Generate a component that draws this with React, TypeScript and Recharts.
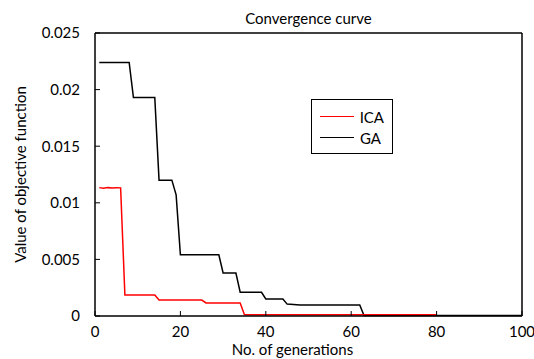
import { Legend, Line, LineChart, XAxis, YAxis } from 'recharts';

const GENERATION_TICKS = [0, 20, 40, 60, 80, 100];
const OBJECTIVE_TICKS = [0, 0.005, 0.01, 0.015, 0.02, 0.025];

// breakpoints of the step curves
const ICA_GENERATIONS = [1, 2, 3, 4, 5, 6, 7, 14, 15, 25, 26, 34, 35, 80];
const ICA_VALUES = [
  0.01134, 0.01128, 0.01134, 0.0113, 0.01134, 0.01132, 0.00186, 0.00186,
  0.00141, 0.00141, 0.00115, 0.00115, 0.0001, 0.0001,
];

const GA_GENERATIONS = [
  1, 8, 9, 14, 15, 18, 19, 20, 29, 30, 33, 34, 39, 40, 44, 45, 48, 62, 63, 100,
];
const GA_VALUES = [
  0.0224, 0.0224, 0.0193, 0.0193, 0.012, 0.012, 0.0107, 0.0054, 0.0054,
  0.0038, 0.0038, 0.0021, 0.0021, 0.0015, 0.0015, 0.00105, 0.00097, 0.00097,
  0.00005, 0.00005,
];

const SERIES = [
  { name: 'ICA', color: '#ff0000' },
  { name: 'GA', color: '#000000' },
];

const FONT = 'Lato, "Open Sans", sans-serif';

const icaData = ICA_GENERATIONS.map((g, i) => ({ gen: g, value: ICA_VALUES[i] }));
const gaData = GA_GENERATIONS.map((g, i) => ({ gen: g, value: GA_VALUES[i] }));

function LegendBox() {
  return (
    <div
      style={{
        border: '1.5px solid #000',
        background: '#fff',
        padding: '6px 8px',
        fontFamily: FONT,
        fontSize: 15,
        lineHeight: '26px',
        boxSizing: 'border-box',
        width: 82,
        height: 55,
      }}
    >
      {SERIES.map((s) => (
        <div key={s.name} style={{ display: 'flex', alignItems: 'center', gap: 6, height: 21 }}>
          <span style={{ width: 34, height: 0, borderTop: `1.5px solid ${s.color}` }} />
          <span>{s.name}</span>
        </div>
      ))}
    </div>
  );
}

export default function App() {
  return (
    <div style={{ position: 'absolute', left: 0, top: 0, background: '#fff', fontFamily: FONT }}>
      <LineChart
        width={534}
        height={359}
        margin={{ top: 32, right: 11, bottom: 3, left: 10 }}
      >
        <XAxis
          dataKey="gen"
          type="number"
          domain={[0, 100]}
          ticks={GENERATION_TICKS}
          allowDuplicatedCategory={false}
          height={40}
          axisLine={{ stroke: '#000', strokeWidth: 1.5 }}
          tickLine={{ stroke: '#000' }}
          tickSize={-5}
          tickMargin={15}
          tick={{ fill: '#000', fontSize: 15, fontFamily: FONT }}
          label={{
            content: (props: any) => {
              const vb = props.viewBox;
              return (
                <text x={vb.x + vb.width / 2 - 16} y={355} textAnchor="middle" fontSize={15} fontFamily={FONT} fill="#000">
                  No. of generations
                </text>
              );
            },
          }}
        />
        <XAxis
          xAxisId="top"
          orientation="top"
          type="number"
          domain={[0, 100]}
          ticks={GENERATION_TICKS}
          height={1}
          tick={false}
          axisLine={{ stroke: '#000', strokeWidth: 1.5 }}
          tickLine={{ stroke: '#000' }}
          tickSize={-5}
          label={{
            content: (props: any) => {
              const vb = props.viewBox;
              return (
                <text x={vb.x + vb.width / 2} y={24} textAnchor="middle" fontSize={15} fontFamily={FONT} fill="#000">
                  Convergence curve
                </text>
              );
            },
          }}
        />
        <YAxis
          type="number"
          domain={[0, 0.025]}
          ticks={OBJECTIVE_TICKS}
          width={85}
          axisLine={{ stroke: '#000', strokeWidth: 1.5 }}
          tickLine={{ stroke: '#000' }}
          tickSize={-5}
          tickMargin={20}
          tick={{ fill: '#000', fontSize: 15, fontFamily: FONT }}
          label={{
            content: (props: any) => {
              const vb = props.viewBox;
              const cy = vb.y + vb.height / 2;
              return (
                <text
                  x={20}
                  y={cy}
                  transform={`rotate(-90, 20, ${cy})`}
                  textAnchor="middle"
                  dominantBaseline="central"
                  fontSize={15}
                  fontFamily={FONT}
                  fill="#000"
                >
                  Value of objective function
                </text>
              );
            },
          }}
        />
        <YAxis
          yAxisId="right"
          orientation="right"
          type="number"
          domain={[0, 0.025]}
          ticks={OBJECTIVE_TICKS}
          width={1}
          tick={false}
          axisLine={{ stroke: '#000', strokeWidth: 1.5 }}
          tickLine={{ stroke: '#000' }}
          tickSize={-5}
        />
        <Legend
          layout="vertical"
          align="center"
          verticalAlign="middle"
          content={() => <LegendBox />}
          wrapperStyle={{ position: 'absolute', left: 311, top: 99, width: 82, height: 55 }}
        />
        <Line
          data={gaData}
          dataKey="value"
          name="GA"
          type="linear"
          stroke="#000"
          strokeWidth={1.5}
          dot={false}
          isAnimationActive={false}
        />
        <Line
          data={icaData}
          dataKey="value"
          name="ICA"
          type="linear"
          stroke="#ff0000"
          strokeWidth={1.5}
          dot={false}
          isAnimationActive={false}
        />
      </LineChart>
    </div>
  );
}
